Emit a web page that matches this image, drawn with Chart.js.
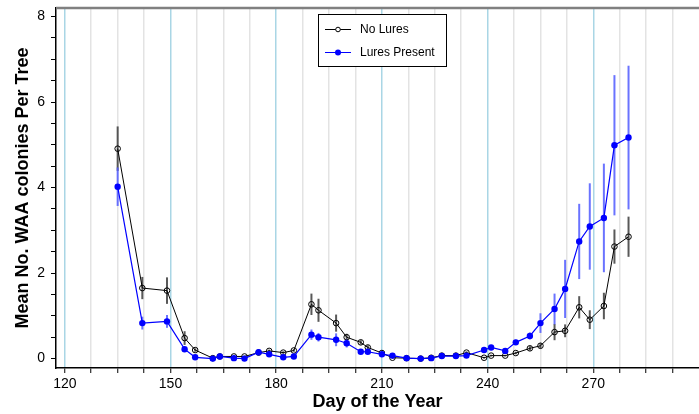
<!DOCTYPE html>
<html>
<head>
<meta charset="utf-8">
<script src="https://cdn.jsdelivr.net/npm/chart.js@4"></script>
<style>
  html, body { margin: 0; padding: 0; background: #fff; }
  #wrap { width: 699px; height: 414px; }
</style>
</head>
<body>
<div id="wrap"><canvas id="waaChart" width="699" height="414"></canvas></div>
<script>
// Sampling days (day of year)
const days = [135, 142, 149, 154, 157, 162, 164, 168, 171, 175, 178, 182, 185, 190, 192, 197, 200, 204, 206, 210,
              213, 217, 221, 224, 227, 231, 234, 239, 241, 245, 248, 252, 255, 259, 262, 266, 269, 273, 276, 280];

// Mean colonies per tree, no lures
const noLures = [4.91, 1.65, 1.59, 0.48, 0.20, 0.01, 0.05, 0.05, 0.05, 0.14, 0.18, 0.14, 0.19, 1.27, 1.13, 0.83, 0.50, 0.38, 0.26, 0.13,
                 0.02, 0.01, 0.00, 0.02, 0.07, 0.07, 0.14, 0.02, 0.07, 0.07, 0.13, 0.24, 0.30, 0.62, 0.65, 1.20, 0.91, 1.23, 2.62, 2.85];
const noLuresErr = [0.52, 0.26, 0.31, 0.16, 0.04, 0, 0.02, 0.02, 0.02, 0.03, 0.03, 0.03, 0.03, 0.25, 0.27, 0.2, 0.08, 0.05, 0.05, 0.03,
                    0.02, 0.01, 0.01, 0.01, 0.02, 0.02, 0.03, 0.02, 0.02, 0.02, 0.03, 0.05, 0.06, 0.19, 0.15, 0.26, 0.22, 0.31, 0.4, 0.47];

// Mean colonies per tree, lures present
const luresPresent = [4.02, 0.83, 0.87, 0.22, 0.03, 0.00, 0.05, 0.01, 0.00, 0.15, 0.10, 0.03, 0.05, 0.56, 0.50, 0.44, 0.36, 0.16, 0.16, 0.10,
                      0.07, 0.01, 0.00, 0.01, 0.06, 0.06, 0.07, 0.20, 0.26, 0.18, 0.38, 0.53, 0.83, 1.16, 1.63, 2.74, 3.09, 3.29, 4.99, 5.17];
const luresPresentErr = [0.45, 0.15, 0.15, 0.05, 0.02, 0, 0.02, 0.01, 0.01, 0.03, 0.03, 0.02, 0.02, 0.12, 0.1, 0.15, 0.1, 0.03, 0.03, 0.02,
                         0.02, 0.01, 0.01, 0.01, 0.02, 0.02, 0.02, 0.04, 0.04, 0.04, 0.06, 0.08, 0.23, 0.36, 0.68, 0.88, 1.01, 1.27, 1.64, 1.68];

// Axis ticks
const xTickLabels = [120, 150, 180, 210, 240, 270];
const yTickLabels = [0, 2, 4, 6, 8];
const xMinorStep = 7.5;
const yMinorStep = 0.5;

const seriesNames = ['No Lures', 'Lures Present'];

const FONT = "'Liberation Sans', Arial, Helvetica, sans-serif";

function toPoints(ys) {
    return days.map((d, i) => ({ x: d, y: ys[i] }));
}

// vertical error bars, drawn under the lines
const errorBars = {
    id: 'errorBars',
    beforeDatasetsDraw(chart) {
        const ctx = chart.ctx;
        const xs = chart.scales.x, ys = chart.scales.y;
        const sets = [
            { vals: noLures, err: noLuresErr, color: 'rgba(60,60,60,0.85)' },
            { vals: luresPresent, err: luresPresentErr, color: 'rgba(80,90,255,0.85)' }
        ];
        ctx.save();
        ctx.beginPath();
        ctx.rect(chart.chartArea.left, chart.chartArea.top, chart.chartArea.width, chart.chartArea.height);
        ctx.clip();
        ctx.lineWidth = 2;
        sets.forEach(s => {
            ctx.strokeStyle = s.color;
            days.forEach((d, i) => {
                if (!s.err[i]) return;
                const px = xs.getPixelForValue(d);
                ctx.beginPath();
                ctx.moveTo(px, ys.getPixelForValue(s.vals[i] - s.err[i]));
                ctx.lineTo(px, ys.getPixelForValue(s.vals[i] + s.err[i]));
                ctx.stroke();
            });
        });
        ctx.restore();
    }
};

// grey frame line along the top + legend box
const frameAndLegend = {
    id: 'frameAndLegend',
    afterDraw(chart) {
        const ctx = chart.ctx;
        const area = chart.chartArea;
        ctx.save();
        ctx.strokeStyle = '#808080';
        ctx.lineWidth = 2.5;
        ctx.beginPath();
        ctx.moveTo(area.left, area.top);
        ctx.lineTo(area.right, area.top);
        ctx.stroke();

        // legend
        const bx = 318.5, by = 14.5, bw = 128, bh = 52;
        ctx.fillStyle = '#fff';
        ctx.fillRect(bx, by, bw, bh);
        ctx.strokeStyle = '#000';
        ctx.lineWidth = 1;
        ctx.strokeRect(bx, by, bw, bh);
        const rows = [
            { label: seriesNames[0], y: 29.5, color: '#000', fill: false },
            { label: seriesNames[1], y: 52.5, color: '#0000ff', fill: true }
        ];
        ctx.font = '12px ' + FONT;
        ctx.textBaseline = 'middle';
        rows.forEach(r => {
            ctx.strokeStyle = r.color;
            ctx.lineWidth = 1;
            ctx.beginPath();
            ctx.moveTo(325, r.y);
            ctx.lineTo(351, r.y);
            ctx.stroke();
            ctx.beginPath();
            if (r.fill) {
                ctx.arc(338, r.y, 3, 0, Math.PI * 2);
                ctx.fillStyle = r.color;
                ctx.fill();
            } else {
                ctx.arc(338, r.y, 2.3, 0, Math.PI * 2);
                ctx.fillStyle = '#fff';
                ctx.fill();
                ctx.stroke();
            }
            ctx.fillStyle = '#000';
            ctx.fillText(r.label, 360, r.y + 0.5);
        });
        ctx.restore();
    }
};

const ctx = document.getElementById('waaChart').getContext('2d');
const waaChart = new Chart(ctx, {
    type: 'line',
    data: {
        datasets: [{
            label: seriesNames[0],
            data: toPoints(noLures),
            borderColor: '#000',
            borderWidth: 1,
            pointRadius: 2.8,
            pointBorderWidth: 1,
            pointBorderColor: '#000',
            pointBackgroundColor: 'rgba(255,255,255,0)',
            tension: 0,
            order: 2
        }, {
            label: seriesNames[1],
            data: toPoints(luresPresent),
            borderColor: '#0000ff',
            borderWidth: 1.2,
            pointRadius: 3.2,
            pointBorderWidth: 0,
            pointBackgroundColor: '#0000ff',
            tension: 0,
            order: 1
        }]
    },
    options: {
        responsive: false,
        animation: false,
        layout: { autoPadding: false, padding: { top: 8, right: 0, left: 0, bottom: 0 } },
        plugins: {
            legend: { display: false },
            tooltip: { enabled: false }
        },
        scales: {
            x: {
                type: 'linear',
                min: 117.5,
                max: 300,
                afterFit(scale) {
                    scale.height = 46;
                    scale.paddingLeft = 0;
                    scale.paddingRight = 0;
                },
                afterBuildTicks(scale) {
                    const t = [];
                    for (let v = xTickLabels[0]; v < 300; v += xMinorStep) t.push({ value: v });
                    scale.ticks = t;
                },
                border: { color: '#000', width: 1.5 },
                grid: {
                    color: c => (c.tick && c.tick.value % 30 === 0) ? '#a9d6e5' : '#e3e3e3',
                    lineWidth: 1.5,
                    tickColor: '#000',
                    tickLength: 5,
                    tickWidth: 1
                },
                ticks: {
                    autoSkip: false,
                    maxRotation: 0,
                    padding: 3,
                    color: '#000',
                    font: { family: FONT, size: 14 },
                    callback: v => xTickLabels.includes(v) ? String(v) : ''
                },
                title: {
                    display: true,
                    text: 'Day of the Year',
                    color: '#000',
                    font: { family: FONT, size: 18, weight: 'bold' },
                    padding: { top: 0, bottom: 1 }
                }
            },
            y: {
                min: -0.22,
                max: 8.2,
                afterFit(scale) {
                    scale.width = 56;
                    scale.paddingTop = 0;
                    scale.paddingBottom = 0;
                },
                afterBuildTicks(scale) {
                    const t = [];
                    for (let v = 0; v <= yTickLabels[yTickLabels.length - 1]; v += yMinorStep) t.push({ value: v });
                    scale.ticks = t;
                },
                border: { color: '#000', width: 1.5 },
                grid: {
                    drawOnChartArea: false,
                    tickColor: '#000',
                    tickLength: 5,
                    tickWidth: 1
                },
                ticks: {
                    autoSkip: false,
                    padding: 6,
                    color: '#000',
                    font: { family: FONT, size: 14 },
                    callback: v => yTickLabels.includes(v) ? String(v) : ''
                },
                title: {
                    display: true,
                    text: 'Mean No. WAA colonies Per Tree',
                    color: '#000',
                    font: { family: FONT, size: 18, weight: 'bold' },
                    padding: { top: 12, bottom: 0 }
                }
            }
        }
    },
    plugins: [errorBars, frameAndLegend]
});
</script>
</body>
</html>
